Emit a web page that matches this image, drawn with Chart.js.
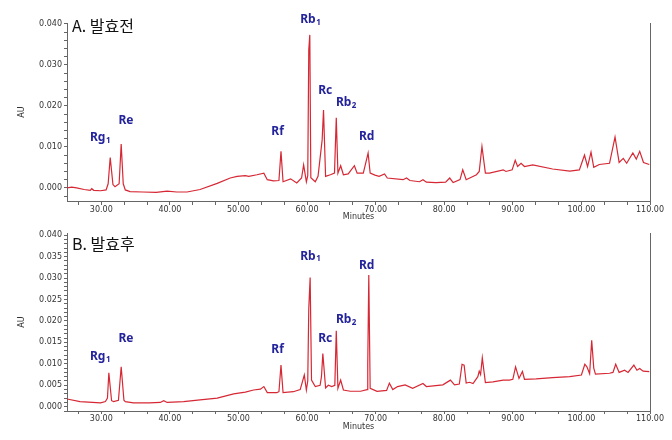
<!DOCTYPE html>
<html>
<head>
<meta charset="utf-8">
<script src="https://cdn.jsdelivr.net/npm/chart.js@4.4.0/dist/chart.umd.min.js"></script>
<style>
  body { margin: 0; background: #fff; }
  #wrap { position: relative; width: 672px; height: 440px; }
  #wrap canvas { position: absolute; left: 0; }
</style>
</head>
<body>
<div id="wrap">
  <canvas id="chartA" width="672" height="228" style="top:0"></canvas>
  <canvas id="chartB" width="672" height="222" style="top:218px"></canvas>
</div>
<script>
// Panel A (before fermentation): retention time (min) and absorbance (AU)
const timesA = [25.0, 25.7, 26.4, 27.5, 28.4, 28.6, 28.9, 29.9, 30.7, 31.0, 31.3, 31.7, 32.0, 32.6, 32.9, 33.2, 33.5, 34.2,
  36.0, 38.0, 39.6, 41.0, 42.5, 44.4, 46.9, 48.8, 49.8, 51.0, 51.5, 52.7, 53.7, 54.2, 55.1, 55.9, 56.2, 56.5, 57.6, 58.5,
  59.2, 59.5, 59.9, 60.1, 60.25, 60.4, 60.55, 61.2, 61.6, 62.2, 62.4, 62.7, 63.4, 64.0, 64.26, 64.5, 64.9, 65.3, 66.0, 66.9,
  67.3, 68.2, 68.9, 69.2, 69.9, 70.5, 71.3, 71.7, 74.0, 74.5, 75.0, 76.4, 76.9, 77.4, 78.8, 80.2, 80.8, 81.3, 82.3, 82.7,
  83.2, 84.7, 85.1, 85.5, 86.0, 86.6, 88.6, 89.0, 89.9, 90.35, 90.7, 91.2, 91.7, 92.9, 95.8, 98.3, 99.7, 100.45, 100.9, 101.4,
  101.8, 102.6, 104.1, 104.9, 105.5, 106.1, 106.6, 107.5, 108.0, 108.5, 109.05, 109.9];
const auA = [0.0000, 0.0002, 0.0000, -0.0004, -0.0006, -0.0002, -0.0006, -0.0007, -0.0005, 0.0010, 0.0074, 0.0008, 0.0003, 0.0010, 0.0107, 0.0010, -0.0005, -0.0009,
  -0.0010, -0.0011, -0.0008, -0.0010, -0.0010, -0.0004, 0.0011, 0.0024, 0.0028, 0.0030, 0.0028, 0.0032, 0.0036, 0.0020, 0.0017, 0.0018, 0.0089, 0.0015, 0.0022, 0.0012,
  0.0024, 0.0056, 0.0015, 0.0030, 0.0337, 0.0373, 0.0025, 0.0015, 0.0028, 0.0117, 0.0190, 0.0028, 0.0032, 0.0036, 0.0171, 0.0036, 0.0054, 0.0032, 0.0034, 0.0054,
  0.0036, 0.0036, 0.0085, 0.0036, 0.0031, 0.0028, 0.0034, 0.0024, 0.0020, 0.0024, 0.0018, 0.0015, 0.0020, 0.0014, 0.0013, 0.0014, 0.0024, 0.0013, 0.0020, 0.0044,
  0.0020, 0.0032, 0.0040, 0.0101, 0.0036, 0.0036, 0.0044, 0.0040, 0.0044, 0.0067, 0.0052, 0.0060, 0.0052, 0.0056, 0.0046, 0.0041, 0.0044, 0.0080, 0.0052, 0.0087,
  0.0050, 0.0057, 0.0060, 0.0124, 0.0062, 0.0072, 0.0060, 0.0085, 0.0070, 0.0089, 0.0062, 0.0057];

// Panel B (after fermentation)
const timesB = [25.0, 26.9, 29.9, 30.6, 30.9, 31.1, 31.5, 31.8, 32.5, 32.9, 33.3, 33.5, 34.7, 37.0, 38.6, 39.1, 39.6, 42.0, 44.4, 46.9,
  49.3, 51.0, 52.2, 53.2, 53.7, 54.2, 55.6, 55.9, 56.2, 56.5, 58.0, 59.0, 59.6, 59.9, 60.1, 60.25, 60.45, 60.65, 61.2, 61.9,
  62.1, 62.3, 62.7, 63.1, 63.6, 64.05, 64.26, 64.5, 64.9, 65.3, 66.3, 67.8, 68.75, 68.85, 69.0, 69.2, 70.2, 71.6, 72.0, 72.5,
  73.2, 74.3, 75.4, 76.9, 77.4, 79.8, 80.9, 81.5, 82.2, 82.6, 82.9, 83.2, 83.7, 84.2, 84.9, 85.1, 85.3, 85.55, 86.0, 87.1,
  88.6, 89.5, 90.0, 90.4, 90.9, 91.4, 91.7, 93.4, 95.8, 98.3, 100.0, 100.5, 100.8, 101.2, 101.5, 101.8, 102.05, 104.1, 104.6, 105.0,
  105.5, 106.3, 106.8, 107.65, 108.1, 108.5, 109.0, 109.9];
const auB = [0.0018, 0.0012, 0.0009, 0.0012, 0.0020, 0.0079, 0.0014, 0.0012, 0.0015, 0.0093, 0.0015, 0.0012, 0.0009, 0.0009, 0.0010, 0.0014, 0.0010, 0.0012, 0.0016, 0.0020,
  0.0030, 0.0034, 0.0039, 0.0041, 0.0047, 0.0033, 0.0033, 0.0035, 0.0097, 0.0033, 0.0035, 0.0040, 0.0074, 0.0039, 0.0060, 0.0229, 0.0301, 0.0062, 0.0047, 0.0050,
  0.0070, 0.0124, 0.0044, 0.0050, 0.0047, 0.0050, 0.0177, 0.0043, 0.0062, 0.0039, 0.0036, 0.0036, 0.0040, 0.0101, 0.0307, 0.0043, 0.0036, 0.0038, 0.0055, 0.0040,
  0.0047, 0.0051, 0.0043, 0.0054, 0.0047, 0.0051, 0.0062, 0.0051, 0.0053, 0.0099, 0.0097, 0.0055, 0.0057, 0.0054, 0.0070, 0.0083, 0.0075, 0.0114, 0.0056, 0.0058,
  0.0062, 0.0062, 0.0064, 0.0093, 0.0066, 0.0082, 0.0064, 0.0065, 0.0068, 0.0070, 0.0074, 0.0099, 0.0093, 0.0077, 0.0155, 0.0090, 0.0076, 0.0078, 0.0080, 0.0099,
  0.0080, 0.0085, 0.0080, 0.0097, 0.0085, 0.0089, 0.0083, 0.0082];

// Peak annotations (ginsenosides): name, subscript, label anchor (min, AU)
const peakNames = ['Rg', 'Re', 'Rf', 'Rb', 'Rc', 'Rb', 'Rd'];
const peakSubs = ['1', '', '', '1', '', '2', ''];
const peakLabelTimes = [29.85, 33.6, 55.7, 60.5, 62.65, 65.7, 68.7];
const peakLabelAuA = [0.0122, 0.0163, 0.0137, 0.0410, 0.0237, 0.0207, 0.0124];
const peakLabelAuB = [0.0116, 0.0160, 0.0134, 0.0351, 0.0160, 0.0202, 0.0328];

// Axis ticks
const xMajorTicks = [30, 40, 50, 60, 70, 80, 90, 100, 110];
const yMajorStepA = 0.010, yMinorStepA = 0.002;
const yMajorStepB = 0.005, yMinorStepB = 0.001;

const axisColor = '#666';
const tickFont = { family: 'DejaVu Sans', size: 8 };

function xTickList() {
  const out = [];
  const step = (xMajorTicks[1] - xMajorTicks[0]) / 3;
  for (let k = -1; k <= (xMajorTicks.length - 1) * 3; k++) {
    out.push({ value: Math.round((xMajorTicks[0] + k * step) * 1000) / 1000 });
  }
  return out;
}

function yTickList(from, to, step) {
  const out = [];
  const n = Math.round((to - from) / step);
  for (let i = 0; i <= n; i++) out.push({ value: Math.round((from + i * step) * 1e6) / 1e6 });
  return out;
}

function isMultiple(v, step) {
  const r = v / step;
  return Math.abs(r - Math.round(r)) < 1e-6;
}

const panelPlugin = {
  id: 'panel',
  afterDatasetsDraw(chart, args, opts) {
    const { ctx, chartArea, scales: { x, y } } = chart;
    ctx.save();
    // right frame line
    ctx.strokeStyle = axisColor;
    ctx.lineWidth = 1;
    ctx.beginPath();
    ctx.moveTo(chartArea.right + 0.5, chartArea.top);
    ctx.lineTo(chartArea.right + 0.5, chartArea.bottom);
    ctx.stroke();

    // panel title
    ctx.fillStyle = '#111';
    ctx.font = '16px "Noto Sans CJK KR"';
    ctx.textAlign = 'left';
    ctx.textBaseline = 'middle';
    ctx.fillText(opts.title, chartArea.left + 5, chartArea.top + opts.titleOffset);

    // peak labels
    ctx.fillStyle = '#23239b';
    peakNames.forEach((name, i) => {
      const px = x.getPixelForValue(peakLabelTimes[i]);
      const py = y.getPixelForValue(opts.labelAu[i]);
      ctx.font = 'bold 12px "Noto Sans"';
      const wBase = ctx.measureText(name).width;
      ctx.font = 'bold 8px "Noto Sans"';
      const wSub = peakSubs[i] ? ctx.measureText(peakSubs[i]).width + 0.5 : 0;
      const left = px - (wBase + wSub) / 2;
      ctx.font = 'bold 12px "Noto Sans"';
      ctx.fillText(name, left, py);
      if (peakSubs[i]) {
        ctx.font = 'bold 8px "Noto Sans"';
        ctx.fillText(peakSubs[i], left + wBase + 0.5, py + 3);
      }
    });
    ctx.restore();
  }
};

function makeChart(id, times, values, cfg) {
  const ctx = document.getElementById(id).getContext('2d');
  return new Chart(ctx, {
    type: 'line',
    data: {
      datasets: [{
        data: times.map((t, i) => ({ x: t, y: values[i] })),
        borderColor: 'rgb(214, 40, 52)',
        borderWidth: 1.2,
        pointRadius: 0,
        tension: 0,
        fill: false
      }]
    },
    options: {
      responsive: false,
      animation: false,
      layout: { padding: { top: cfg.top, right: 22, bottom: 0, left: 0 } },
      plugins: {
        legend: { display: false },
        tooltip: { enabled: false },
        panel: { title: cfg.title, titleOffset: cfg.titleOffset, labelAu: cfg.labelAu }
      },
      scales: {
        x: {
          type: 'linear',
          min: 25,
          max: 110,
          afterBuildTicks: axis => { axis.ticks = xTickList(); },
          afterFit: s => { s.height = cfg.xHeight; },
          ticks: {
            autoSkip: false,
            maxRotation: 0,
            padding: 0,
            color: '#333',
            font: tickFont,
            callback: v => isMultiple(v - xMajorTicks[0], 10) ? v.toFixed(2) : ''
          },
          grid: { drawOnChartArea: false, tickLength: cfg.xTickLength, color: axisColor },
          border: { color: axisColor },
          title: { display: true, text: 'Minutes', color: '#333', font: tickFont, padding: { top: 0, bottom: cfg.minutesPad } }
        },
        y: {
          min: cfg.yMin,
          max: cfg.yMax,
          afterBuildTicks: axis => { axis.ticks = yTickList(cfg.tickFrom, 0.040, cfg.minorStep); },
          afterFit: s => { s.width = 67; },
          ticks: {
            autoSkip: false,
            padding: 2,
            color: '#333',
            font: tickFont,
            callback: v => isMultiple(v, cfg.majorStep) ? v.toFixed(3) : ''
          },
          grid: { drawOnChartArea: false, tickLength: 3, color: axisColor },
          border: { color: axisColor },
          title: { display: true, text: 'AU', color: '#333', font: tickFont, padding: { top: 17, bottom: 0 } }
        }
      }
    },
    plugins: [panelPlugin]
  });
}

makeChart('chartA', timesA, auA, {
  title: 'A. 발효전', titleOffset: 3, labelAu: peakLabelAuA,
  top: 23, xHeight: 27, xTickLength: 4, minutesPad: 6,
  yMin: -0.0032, yMax: 0.0402, tickFrom: -0.002, minorStep: yMinorStepA, majorStep: yMajorStepA
});

makeChart('chartB', timesB, auB, {
  title: 'B. 발효후', titleOffset: 10.5, labelAu: peakLabelAuB,
  top: 15, xHeight: 29, xTickLength: 3, minutesPad: 8,
  yMin: -0.001, yMax: 0.0405, tickFrom: -0.001, minorStep: yMinorStepB, majorStep: yMajorStepB
});
</script>
</body>
</html>
